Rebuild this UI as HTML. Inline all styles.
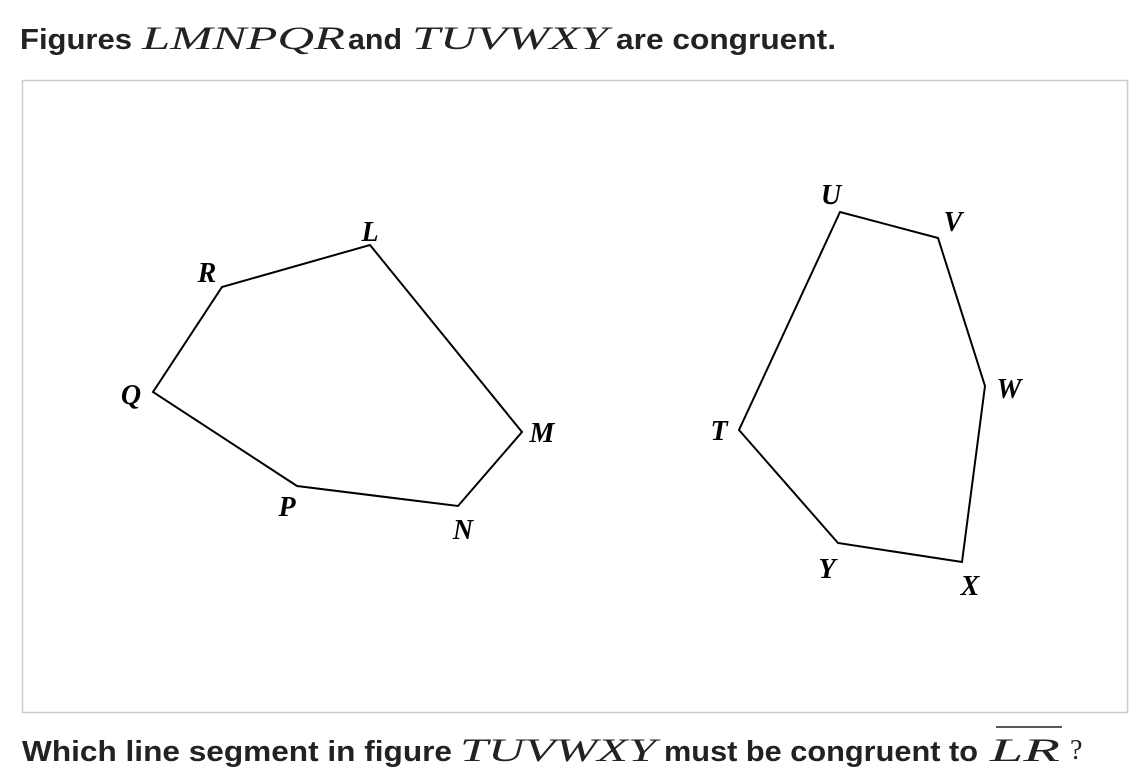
<!DOCTYPE html>
<html><head><meta charset="utf-8"><style>
html,body{margin:0;padding:0;background:#fff;width:1132px;height:778px;overflow:hidden}
</style></head><body>
<svg width="1132" height="778" xmlns="http://www.w3.org/2000/svg">
<g font-family="Liberation Sans, sans-serif" font-weight="bold" font-size="29" fill="#222">
<text x="20" y="49" textLength="112" lengthAdjust="spacingAndGlyphs">Figures</text>
<text x="348" y="49" textLength="54" lengthAdjust="spacingAndGlyphs">and</text>
<text x="616" y="49" textLength="220" lengthAdjust="spacingAndGlyphs">are congruent.</text>
<text x="22" y="761" textLength="430" lengthAdjust="spacingAndGlyphs">Which line segment in figure</text>
<text x="664" y="761" textLength="314" lengthAdjust="spacingAndGlyphs">must be congruent to</text>
</g>
<g font-family="Liberation Serif, serif" font-style="italic" font-size="33" fill="#222">
<text x="142" y="49" textLength="203" lengthAdjust="spacingAndGlyphs">LMNPQR</text>
<text x="412" y="49" textLength="196" lengthAdjust="spacingAndGlyphs">TUVWXY</text>
<text x="460" y="761" textLength="196" lengthAdjust="spacingAndGlyphs">TUVWXY</text>
<text x="990" y="761" textLength="70" lengthAdjust="spacingAndGlyphs">LR</text>
<text x="1070" y="759" font-style="normal" font-size="28">?</text>
</g>
<line x1="996" y1="727" x2="1062" y2="727" stroke="#222" stroke-width="1.5"/>
<rect x="22.5" y="80.5" width="1105" height="632" fill="none" stroke="#ccc" stroke-width="1.5"/>
<g fill="none" stroke="#000" stroke-width="2" stroke-linejoin="miter">
<polygon points="370,245 522,432 458,506 297,486 153,392 222,287"/>
<polygon points="840,212 938,238 985,386 962,562 838,543 739,430"/>
</g>
<g font-family="Liberation Serif, serif" font-style="italic" font-weight="bold" font-size="28" fill="#000" text-anchor="middle">
<text x="370" y="241">L</text>
<text x="207" y="282">R</text>
<text x="131" y="404">Q</text>
<text x="542" y="442">M</text>
<text x="287" y="516">P</text>
<text x="463" y="539">N</text>
<text x="831" y="204">U</text>
<text x="953" y="231">V</text>
<text x="1009" y="398">W</text>
<text x="719" y="440">T</text>
<text x="827" y="578">Y</text>
<text x="970" y="595">X</text>
</g>
</svg>
</body></html>
